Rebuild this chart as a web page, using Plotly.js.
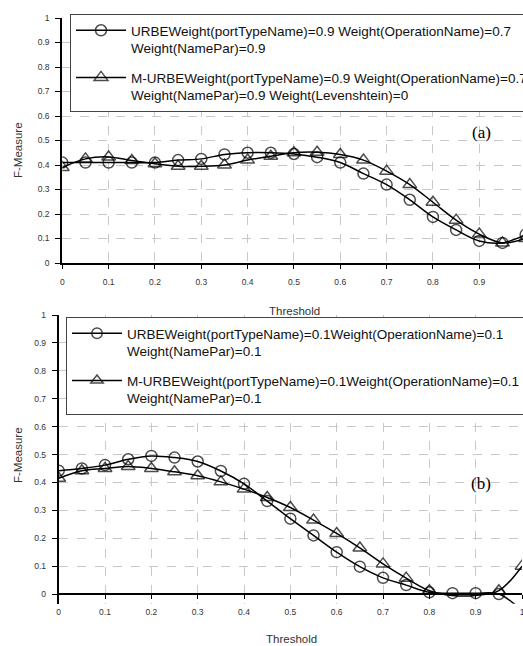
<!DOCTYPE html>
<html>
<head>
<meta charset="utf-8">
<script src="https://cdn.plot.ly/plotly-3.0.1.min.js"></script>
<style>
html,body{margin:0;padding:0;overflow:hidden;background:#fff;width:523px;height:646px;}
#chart{width:600px;height:646px;}
</style>
</head>
<body>
<div id="chart"></div>
<script>
// ---- data ----
const thresholds = [0,0.05,0.1,0.15,0.2,0.25,0.3,0.35,0.4,0.45,0.5,0.55,0.6,0.65,0.7,0.75,0.8,0.85,0.9,0.95,1];
const urbeA  = [0.41,0.41,0.41,0.41,0.41,0.42,0.425,0.443,0.45,0.45,0.445,0.432,0.41,0.365,0.32,0.258,0.188,0.135,0.09,0.082,0.116];
const murbeA = [0.39,0.425,0.433,0.418,0.405,0.395,0.395,0.40,0.42,0.436,0.45,0.452,0.443,0.42,0.375,0.32,0.248,0.175,0.118,0.082,0.10];
const urbeB  = [0.442,0.45,0.462,0.483,0.495,0.489,0.475,0.441,0.395,0.333,0.27,0.21,0.15,0.098,0.058,0.032,0.006,0.003,0.003,0.0,-0.06];
const murbeB = [0.415,0.442,0.45,0.457,0.45,0.438,0.424,0.402,0.376,0.346,0.31,0.265,0.217,0.165,0.108,0.057,0.012,-0.005,-0.005,0.012,0.1];
const namesA = ["URBEWeight(portTypeName)=0.9 Weight(OperationName)=0.7<br>Weight(NamePar)=0.9",
                "M-URBEWeight(portTypeName)=0.9 Weight(OperationName)=0.7<br>Weight(NamePar)=0.9 Weight(Levenshtein)=0"];
const namesB = ["URBEWeight(portTypeName)=0.1Weight(OperationName)=0.1<br>Weight(NamePar)=0.1",
                "M-URBEWeight(portTypeName)=0.1Weight(OperationName)=0.1<br>Weight(NamePar)=0.1"];
const yTicks = [0,0.1,0.2,0.3,0.4,0.5,0.6,0.7,0.8,0.9,1];
const xTicksA = [0,0.1,0.2,0.3,0.4,0.5,0.6,0.7,0.8,0.9];
const xTicksB = [0,0.1,0.2,0.3,0.4,0.5,0.6,0.7,0.8,0.9,1];

// ---- layout helpers ----
const W = 600, H = 646;
const px = v => v / W;
const py = v => 1 - v / H;

function tr(y, name, sym, xa, ya, leg, grp) {
  return {
    x: thresholds, y: y, name: name, type: 'scatter', mode: 'lines+markers',
    xaxis: xa, yaxis: ya, legend: leg, legendgroup: grp,
    line: {color: '#000', width: 1.5, shape: 'spline', smoothing: 1},
    marker: {symbol: sym, size: y.map(v => v < 0 ? 0 : (sym.indexOf('triangle') === 0 ? 12 : 11)),
             color: '#000', line: {color: '#000', width: 1.5}},
    cliponaxis: true, hoverinfo: 'skip'
  };
}

const data = [
  tr(urbeA, namesA[0], 'circle-open', 'x', 'y', 'legend', 'a1'),
  tr(murbeA, namesA[1], 'triangle-up-open', 'x', 'y', 'legend', 'a2'),
  tr(urbeB, namesB[0], 'circle-open', 'x2', 'y2', 'legend2', 'b1'),
  tr(murbeB, namesB[1], 'triangle-up-open', 'x2', 'y2', 'legend2', 'b2')
];

const tickFont = {family: 'Liberation Sans, Arial, sans-serif', size: 8.5, color: '#333'};
const gridCommon = {showgrid: true, gridcolor: '#c8c8c8', griddash: 'dash', gridwidth: 1};

function xax(domain, anchor, ticks, pos) {
  const o = Object.assign({
    domain: domain, range: [0, 1], tickvals: ticks, ticks: 'outside', ticklen: 4, tickwidth: 1,
    tickcolor: '#000', tickfont: tickFont, showline: true, linecolor: '#000', linewidth: 2,
    zeroline: false, ticklabelstandoff: 6, fixedrange: true
  }, gridCommon);
  o.anchor = anchor;
  if (pos !== undefined) o.position = pos;
  return o;
}
function yax(domain, anchor, range) {
  return Object.assign({
    domain: domain, range: range, tickvals: yTicks, ticks: 'outside', ticklen: 5, tickwidth: 1,
    tickcolor: '#000', tickfont: tickFont, showline: true, linecolor: '#000', linewidth: 2,
    zeroline: false, anchor: anchor, ticklabelstandoff: 4, fixedrange: true
  }, gridCommon);
}

const legendCommon = {
  bgcolor: '#fff', bordercolor: '#444', borderwidth: 1,
  font: {family: 'Liberation Sans, Arial, sans-serif', size: 13.5, color: '#111'},
  xanchor: 'left', yanchor: 'top', valign: 'top', itemwidth: 50,
  tracegroupgap: 9, itemclick: false, itemdoubleclick: false
};

const axTitleFont = {family: 'Liberation Sans, Arial, sans-serif', size: 11.5, color: '#333'};
const tagFont = {family: 'Liberation Serif, Times New Roman, serif', size: 17, color: '#000'};
function ann(text, x, y, font, angle) {
  return {text: text, xref: 'paper', yref: 'paper', x: px(x), y: py(y), showarrow: false,
          xanchor: 'center', yanchor: 'middle', textangle: angle || 0, font: font};
}

const layout = {
  width: W, height: H,
  margin: {l: 0, r: 0, t: 0, b: 0},
  paper_bgcolor: '#fff', plot_bgcolor: '#fff',
  showlegend: true,
  xaxis: xax([px(62.3), px(525.6)], 'y', xTicksA),
  yaxis: yax([py(263), py(18)], 'x', [0, 1]),
  xaxis2: xax([px(58.7), px(522)], 'free', xTicksB, py(594)),
  yaxis2: yax([py(603.8), py(315)], 'x2', [-0.035, 1]),
  legend: Object.assign({x: px(70), y: py(14)}, legendCommon),
  legend2: Object.assign({x: px(66), y: py(317)}, legendCommon),
  annotations: [
    ann('Threshold', 294, 311, axTitleFont),
    ann('Threshold', 291, 639, axTitleFont),
    ann('F-Measure', 18, 150, axTitleFont, -90),
    ann('F-Measure', 18, 455, axTitleFont, -90),
    ann('(a)', 481, 132, tagFont),
    ann('(b)', 481, 483, tagFont)
  ]
};

Plotly.newPlot('chart', data, layout, {displayModeBar: false, responsive: false, staticPlot: true});
</script>
</body>
</html>
